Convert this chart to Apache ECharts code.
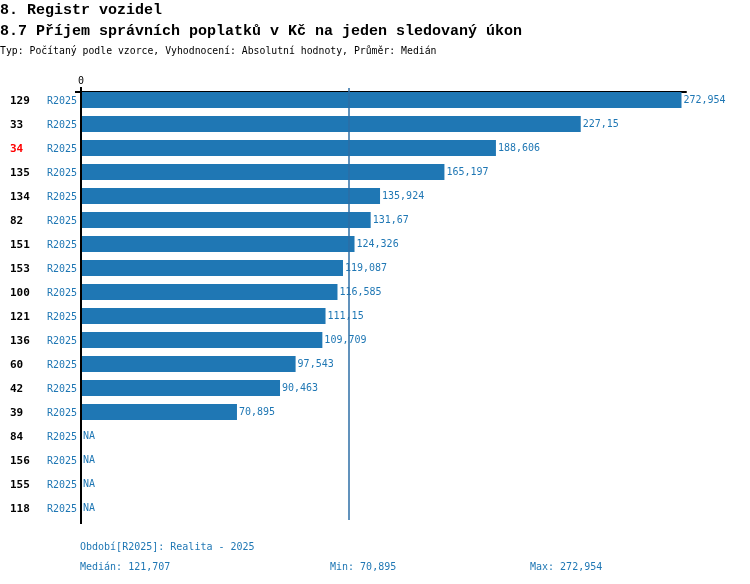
<!DOCTYPE html>
<html>
<head>
<meta charset="utf-8">
<script src="https://cdn.jsdelivr.net/npm/echarts@6/dist/echarts.min.js"></script>
<style>
  html, body { margin: 0; padding: 0; background: #fff; }
  #main { width: 750px; height: 584px; }
</style>
</head>
<body>
<div id="main"></div>
<script>
// data (null = NA)
const unitIds = ['129', '33', '34', '135', '134', '82', '151', '153', '100', '121', '136', '60', '42', '39', '84', '156', '155', '118'];
const periodLabel = 'R2025';
const values = [272.954, 227.15, 188.606, 165.197, 135.924, 131.67, 124.326, 119.087, 116.585, 111.15, 109.709, 97.543, 90.463, 70.895, null, null, null, null];
const highlightId = '34';
const medianValue = 121.707;

const blue = '#1f77b4';
const mono = 'DejaVu Sans Mono';

function fmt(v) {
  return String(+v.toFixed(3)).replace('.', ',');
}

function txt(text, left, top, style) {
  return {
    text: text, left: left, top: top, padding: 0,
    textStyle: Object.assign({ fontFamily: mono, fontSize: 10, fontWeight: 'normal', color: blue }, style)
  };
}

window.onload = function () {
  const dom = document.getElementById('main');
  const myChart = echarts.init(dom);
  const known = values.filter(v => v !== null);
  const minValue = Math.min.apply(null, known);
  const maxValue = Math.max.apply(null, known);
  const head = { fontFamily: 'Liberation Mono', fontSize: 15, fontWeight: 'bold', color: '#000' };

  const option = {
    animation: false,
    textStyle: { fontFamily: mono },
    title: [
      txt('8. Registr vozidel', 0, 3, head),
      txt('8.7 Příjem správních poplatků v Kč na jeden sledovaný úkon', 0, 24, head),
      txt('Typ: Počítaný podle vzorce, Vyhodnocení: Absolutní hodnoty, Průměr: Medián', 0, 46, { fontSize: 9.8, color: '#000' }),
      txt('Období[' + periodLabel + ']: Realita - 2025', 80, 542, {}),
      txt('Medián: ' + fmt(medianValue), 80, 562, {}),
      txt('Min: ' + fmt(minValue), 330, 562, {}),
      txt('Max: ' + fmt(maxValue), 530, 562, {})
    ],
    grid: { left: 81, right: 64, top: 88, height: 432, containLabel: false },
    xAxis: {
      type: 'value',
      position: 'top',
      offset: -4,
      min: 0,
      max: 275,
      interval: 275,
      axisLine: { show: true, lineStyle: { color: '#000', width: 2 } },
      axisTick: { show: false },
      splitLine: { show: false },
      axisLabel: {
        margin: 6,
        fontFamily: mono,
        fontSize: 10,
        color: '#000',
        formatter: v => (v === 0 ? '0' : '')
      }
    },
    yAxis: {
      type: 'category',
      inverse: true,
      data: unitIds,
      axisLine: { show: false },
      axisTick: { show: false },
      axisLabel: {
        align: 'left',
        margin: 71,
        formatter: id => (id === highlightId ? '{hi|' + id + '}' : '{id|' + id + '}') + '{r|' + periodLabel + '}',
        rich: {
          id: { width: 37, fontFamily: mono, fontSize: 11, fontWeight: 'bold', color: '#000', padding: [3, 0, 0, 0] },
          hi: { width: 37, fontFamily: mono, fontSize: 11, fontWeight: 'bold', color: '#ff0000', padding: [3, 0, 0, 0] },
          r: { fontFamily: mono, fontSize: 10, color: blue, padding: [3, 0, 0, 0] }
        }
      }
    },
    series: [
      {
        type: 'bar',
        barWidth: 16,
        data: values.map(v => (v === null ? { value: 0, isNA: true } : v)),
        itemStyle: { color: blue },
        label: {
          show: true,
          position: 'right',
          distance: 2,
          fontFamily: mono,
          fontSize: 10,
          color: blue,
          padding: [2, 0, 0, 0],
          formatter: p => (p.data && p.data.isNA ? 'NA' : fmt(p.value))
        },
        markLine: {
          silent: true,
          symbol: 'none',
          label: { show: false },
          lineStyle: { color: '#2c6ea6', width: 1.5, type: 'solid' },
          data: [{ xAxis: medianValue }]
        }
      }
    ]
  };
  myChart.setOption(option, true);

  // left axis line, a little longer than the grid like in the original
  const x0 = myChart.convertToPixel({ xAxisIndex: 0 }, 0);
  myChart.setOption({
    graphic: [
      { type: 'line', shape: { x1: x0, y1: 87, x2: x0, y2: 524 }, style: { stroke: '#000', lineWidth: 2 }, z: 100 },
      { type: 'line', shape: { x1: x0 - 6, y1: 92, x2: x0, y2: 92 }, style: { stroke: '#000', lineWidth: 2 }, z: 100 }
    ]
  });
};
</script>
</body>
</html>
